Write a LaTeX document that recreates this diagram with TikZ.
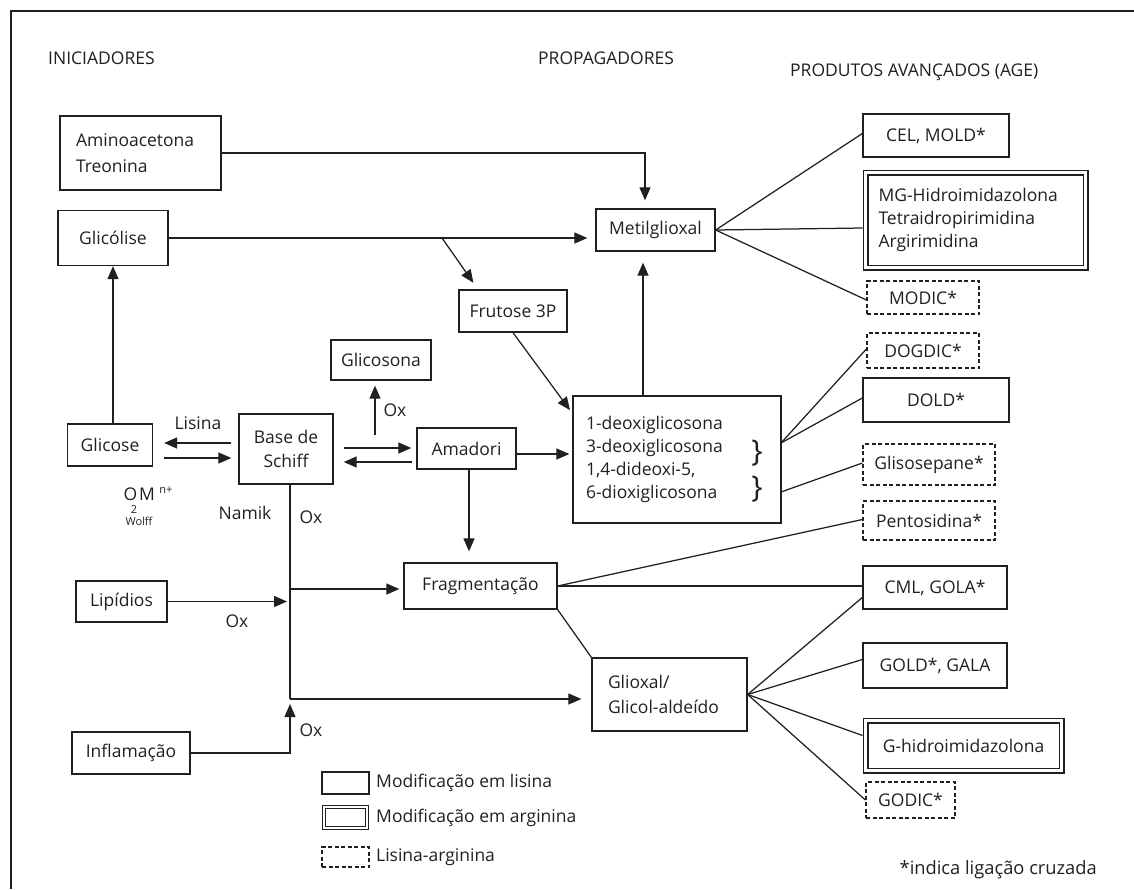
\documentclass[tikz,border=0pt]{standalone}
\usepackage{fontspec}
\setmainfont{Open Sans}
\usetikzlibrary{arrows.meta,calc}
\definecolor{ink}{HTML}{231F20}
\begin{document}
\begin{tikzpicture}[x=1pt,y=-1pt,
  every node/.style={text=ink, font=\fontsize{17.5}{24}\selectfont},
  box/.style={draw=ink, line width=1.3pt, inner sep=0pt, align=center},
  dbox/.style={box, double=white, double distance=3.8pt, line width=1.1pt},
  dashbox/.style={box, dash pattern=on 4pt off 2.5pt, line width=1.2pt},
  lbl/.style={inner sep=0pt},
  small/.style={inner sep=0pt, font=\fontsize{11}{12}\selectfont},
  brace/.style={inner sep=0pt, font=\fontsize{30}{30}\selectfont},
  con/.style={draw=ink, line width=1.25pt},
  arr/.style={con, -{Triangle[length=13pt,width=11pt]}},
]
\useasboundingbox (0,0) rectangle (1134,889);
\draw[line width=1.6pt, ink] (11,889) -- (11,11) -- (1134,11);

% headers
\node[lbl, anchor=west] (hini) at (48,58) {INICIADORES};
\node[lbl, anchor=west] (hprop) at (538,58) {PROPAGADORES};
\node[lbl, anchor=west] (hprod) at (790,72) {PRODUTOS AVANÇADOS (AGE)};

% left / middle boxes
\node[box, minimum width=161pt, minimum height=74pt, text width=129pt, inner xsep=16pt, align=left, font=\fontsize{17.5}{26}\selectfont] (amino) at (140.5,153) {Aminoacetona\\Treonina};
\node[box, minimum width=110pt, minimum height=55pt] (glicolise) at (113,238) {Glicólise};
\node[box, minimum width=119pt, minimum height=42pt] (metil) at (655.5,230) {Metilglioxal};
\node[box, minimum width=108pt, minimum height=42pt] (frutose) at (513,311) {Frutose 3P};
\node[box, minimum width=100pt, minimum height=40pt] (glicosona) at (381,360) {Glicosona};
\node[box, minimum width=99pt, minimum height=41pt] (amadori) at (466.5,448.5) {Amadori};
\node[box, minimum width=208pt, minimum height=127pt, text width=182pt, inner xsep=13pt, align=left, font=\fontsize{17.5}{23}\selectfont] (deoxi) at (677,459.5) {1-deoxiglicosona\\3-deoxiglicosona\\1,4-dideoxi-5,\\6-dioxiglicosona};
\node[brace] (br1) at (757,453) {\}};
\node[brace] (br2) at (757,489) {\}};
\node[box, minimum width=94pt, minimum height=70pt] (base) at (286,449) {Base de\\Schiff};
\node[box, minimum width=85pt, minimum height=42pt] (glicose) at (110,445) {Glicose};
\node[box, minimum width=153pt, minimum height=46pt] (frag) at (480.5,586) {Fragmentação};
\node[box, minimum width=91pt, minimum height=41pt] (lipidios) at (121.5,601.5) {Lipídios};
\node[box, minimum width=118pt, minimum height=42pt] (inflam) at (131,753) {Inflamação};
\node[box, minimum width=155pt, minimum height=73pt, text width=123pt, inner xsep=16pt, align=left, font=\fontsize{17.5}{25}\selectfont] (glioxal) at (669.5,694.5) {Glioxal/\\Glicol-aldeído};

% right boxes
\node[box, minimum width=146pt, minimum height=43pt] (cel) at (936,135.5) {CEL, MOLD*};
\node[dbox, minimum width=220pt, minimum height=95pt, text width=194pt, inner xsep=13pt, align=left, font=\fontsize{17.5}{23}\selectfont] (mg) at (975.5,220) {MG-Hidroimidazolona\\Tetraidropirimidina\\Argirimidina};
\node[dashbox, minimum width=112pt, minimum height=33pt] (modic) at (923,297.5) {MODIC*};
\node[dashbox, minimum width=112pt, minimum height=35pt] (dogdic) at (923,350.5) {DOGDIC*};
\node[box, minimum width=146pt, minimum height=44pt] (dold) at (936,400) {DOLD*};
\node[dashbox, minimum width=132pt, minimum height=41pt] (glis) at (929,464.5) {Glisosepane*};
\node[dashbox, minimum width=132pt, minimum height=39pt] (pent) at (929,520.5) {Pentosidina*};
\node[box, minimum width=144pt, minimum height=43pt] (cml) at (935,587.5) {CML, GOLA*};
\node[box, minimum width=144pt, minimum height=45pt] (gold) at (935,665.5) {GOLD*, GALA};
\node[dbox, minimum width=196pt, minimum height=50pt] (ghidro) at (963.5,745.5) {G-hidroimidazolona};
\node[dashbox, minimum width=89pt, minimum height=36pt] (godic) at (910.5,800) {GODIC*};

% labels
\node[lbl] (lisina) at (198,423) {Lisina};
\node[lbl] (ox1) at (395,410) {Ox};
\node[lbl] (namik) at (245,513) {Namik};
\node[lbl] (ox2) at (311,517) {Ox};
\node[lbl] (ox3) at (237,621) {Ox};
\node[lbl] (ox4) at (311,730) {Ox};
\node[lbl] (lo) at (130.5,494) {O};
\node[lbl] (lm) at (147,494) {M};
\node[small] (lnp) at (166,490) {n+};
\node[small] (l2) at (134,510) {2};
\node[small] (lwolff) at (139,521) {Wolff};

% legend
\node[box, minimum width=47pt, minimum height=22pt] (leg1) at (345.5,783) {};
\node[dbox, double distance=2.4pt, minimum width=43pt, minimum height=21pt] (leg2) at (345.5,817.5) {};
\node[dashbox, minimum width=47pt, minimum height=20pt] (leg3) at (345.5,857) {};
\node[lbl, anchor=west] (legt1) at (376,783) {Modificação em lisina};
\node[lbl, anchor=west] (legt2) at (376,818) {Modificação em arginina};
\node[lbl, anchor=west] (legt3) at (376,857) {Lisina-arginina};
\node[lbl, anchor=east, font=\fontsize{18.3}{24}\selectfont] (note) at (1097,870) {*indica ligação cruzada};

% coordinates
\coordinate (gb) at (442,238);
\coordinate (downx) at (645,0);
\coordinate (upx) at (643,0);
\coordinate (oxs) at (375,435);
\coordinate (vx) at (290,0);
\coordinate (j1) at (290,589);
\coordinate (j2) at (290,699);
\coordinate (jinf) at (290,704);
\coordinate (d1) at (781,443);
\coordinate (d2) at (781,492);

% arrows
\draw[arr, shorten >=8pt] (amino.east) -| (downx |- metil.north);
\draw[arr, shorten >=8pt] (glicolise.east) -- (metil.west |- glicolise.east);
\draw[arr, shorten >=8pt] (gb) -- ($(frutose.north)+(-35,0)$);
\draw[arr, shorten >=4pt] (frutose.south) -- ($(deoxi.north west)+(0,18)$);
\draw[arr, shorten >=11pt] (upx |- deoxi.north) -- (upx |- metil.south);
\draw[arr] (glicose.north -| glicolise.south) -- (glicolise.south);
\draw[arr, shorten <=7pt, shorten >=11pt] ($(base.west)+(0,-6)$) -- ($(glicose.east)+(0,-2)$);
\draw[arr, shorten <=11pt, shorten >=7pt] ($(glicose.east)+(0,13)$) -- ($(base.west)+(0,9)$);
\draw[arr, shorten <=10pt, shorten >=5pt] ($(base.east)+(0,-1)$) -- ($(amadori.west)+(0,-0.5)$);
\draw[arr, shorten <=4pt, shorten >=10pt] ($(amadori.west)+(0,13.5)$) -- ($(base.east)+(0,13)$);
\draw[arr, shorten >=5pt] (oxs) -- (oxs |- glicosona.south);
\draw[arr, shorten >=3pt] ($(amadori.east)+(0,5.5)$) -- ($(deoxi.west)+(0,-5.5)$);
\draw[arr, shorten >=11pt] ($(amadori.south)+(2.5,0)$) -- ($(frag.north)+(-11.5,0)$);
\draw[con] (vx |- base.south) -- (j2);
\draw[arr, shorten >=4pt] (j1) -- (frag.west |- j1);
\draw[arr, shorten >=3pt] (lipidios.east) -- (lipidios.east -| vx);
\draw[arr, shorten >=10pt] (j2) -- (glioxal.west |- j2);
\draw[arr] (inflam.east) -| (jinf);

% plain connectors
\draw[con] (metil.east) -- ($(cel.west)+(0,-2)$);
\draw[con] (metil.east) -- ($(mg.west)+(-2.4,8)$);
\draw[con] (metil.east) -- ($(modic.west)+(0,2.5)$);
\draw[con] (d1) -- ($(dogdic.west)+(0,-1.5)$);
\draw[con] (d1) -- ($(dold.west)+(0,-2)$);
\draw[con] (d2) -- ($(glis.west)+(0,-1.5)$);
\draw[con] (frag.east) -- ($(pent.west)+(0,-1)$);
\draw[con] (frag.east) -- (cml.west |- frag.east);
\draw[con] (frag.south east) -- (glioxal.north west);
\draw[con] (glioxal.east) -- ($(cml.west)+(0,10)$);
\draw[con] (glioxal.east) -- ($(gold.west)+(0,-6)$);
\draw[con] (glioxal.east) -- ($(ghidro.west)+(-2.4,-10)$);
\draw[con] (glioxal.east) -- (godic.west);
\end{tikzpicture}
\end{document}
